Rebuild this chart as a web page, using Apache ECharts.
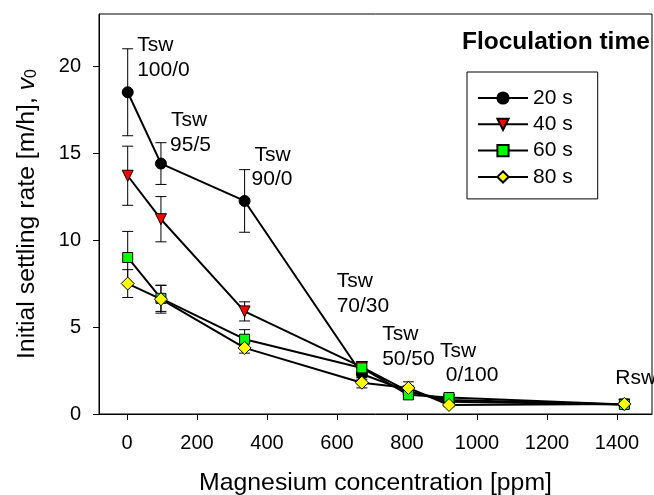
<!DOCTYPE html>
<html>
<head>
<meta charset="utf-8">
<script src="https://cdn.jsdelivr.net/npm/echarts@6/dist/echarts.min.js"></script>
<style>html,body{margin:0;padding:0;background:#fff}#c{width:654px;height:495px}</style>
</head>
<body>
<div id="c"></div>
<script>
// Mg concentration (ppm)
var mg = [2, 97, 336, 671, 804, 920, 1421];
var xTicks = [0, 200, 400, 600, 800, 1000, 1200, 1400];
var yTicks = [0, 5, 10, 15, 20];
var seriesNames = ['20 s', '40 s', '60 s', '80 s'];
var v20 = [18.5, 14.4, 12.25, 2.3, 1.3, 0.7, 0.55];
var v40 = [13.7, 11.2, 5.9, 2.7, 1.3, 0.8, 0.55];
var v60 = [9.0, 6.65, 4.3, 2.65, 1.1, 0.95, 0.55];
var v80 = [7.5, 6.6, 3.8, 1.8, 1.5, 0.52, 0.58];
var e20 = [2.5, 1.2, 1.8, 0.3, 0.2, 0.1, 0.05];
var e40 = [1.7, 1.3, 0.55, 0.3, 0.2, 0.1, 0.05];
var e60 = [1.5, 0.75, 0.55, 0.3, 0.15, 0.15, 0.05];
var e80 = [0.8, 0.8, 0.3, 0.3, 0.35, 0.1, 0.05];
// annotation lines (left x, centre y in data units)
var annoText = ['Tsw', '100/0', 'Tsw', '95/5', 'Tsw', '90/0', 'Tsw', '70/30', 'Tsw', '50/50', 'Tsw', '0/100', 'Rsw'];
var annoX = [29, 29, 126, 123, 364, 356, 599, 599, 729, 729, 894, 911, 1395];
var annoY = [21.2, 19.77, 16.9, 15.48, 14.9, 13.49, 7.65, 6.21, 4.56, 3.16, 3.6, 2.22, 2.03];

var FONT = 'Liberation Sans, Arial, sans-serif';
var values = [v20, v40, v60, v80];
var errs = [e20, e40, e60, e80];
var symbols = ['circle', 'triangle', 'rect', 'diamond'];
var rot = [0, 180, 0, 0];
var sizes = [11, 11, 10, 13];
var colors = ['#000000', '#FF0000', '#00FF00', '#FFFF00'];

var series = [];
for (var s = 0; s < 4; s++) {
  var ebData = mg.map(function (x, i) { return [x, values[s][i], errs[s][i]]; });
  series.push({
    type: 'custom', z: 2, silent: true,
    data: ebData,
    renderItem: function (params, api) {
      var x = api.value(0), y = api.value(1), e = api.value(2);
      var top = api.coord([x, y + e]);
      var bot = api.coord([x, y - e]);
      var w = 5.5;
      var st = { stroke: '#000', lineWidth: 1 };
      return { type: 'group', children: [
        { type: 'line', shape: { x1: top[0], y1: top[1], x2: bot[0], y2: bot[1] }, style: st },
        { type: 'line', shape: { x1: top[0] - w, y1: top[1], x2: top[0] + w, y2: top[1] }, style: st },
        { type: 'line', shape: { x1: bot[0] - w, y1: bot[1], x2: bot[0] + w, y2: bot[1] }, style: st }
      ]};
    }
  });
}
for (var s2 = 0; s2 < 4; s2++) {
  series.push({
    type: 'line', name: seriesNames[s2], z: 3,
    data: mg.map(function (x, i) { return [x, values[s2][i]]; }),
    symbol: symbols[s2], symbolRotate: rot[s2], symbolSize: sizes[s2],
    showAllSymbol: true,
    lineStyle: { color: '#000', width: 2 },
    itemStyle: { color: colors[s2], borderColor: '#000', borderWidth: 1 },
    emphasis: { disabled: true },
    animation: false
  });
}
series.push({
  type: 'scatter', z: 4, silent: true,
  symbolSize: 0,
  itemStyle: { opacity: 1 },
  data: annoText.map(function (t, i) { return { value: [annoX[i], annoY[i]], name: t }; }),
  label: {
    show: true, position: [0, 0], align: 'left', verticalAlign: 'middle',
    formatter: '{b}', color: '#000', fontSize: 21, fontFamily: FONT, opacity: 1
  }
});

var chart = echarts.init(document.getElementById('c'), null, { renderer: 'canvas' });
chart.setOption({
  animation: false,
  backgroundColor: '#fff',
  title: {
    text: 'Floculation time', left: 457, top: 25,
    textStyle: { fontFamily: FONT, fontSize: 24.5, fontWeight: 'bold', color: '#000' }
  },
  legend: {
    data: seriesNames, orient: 'vertical', left: 467, top: 72,
    borderColor: '#000', borderWidth: 1, padding: [15.5, 25, 11.5, 10],
    itemWidth: 50, itemHeight: 14, itemGap: 5.3,
    textStyle: { fontFamily: FONT, fontSize: 21, color: '#000' },
    selectedMode: false
  },
  grid: { left: 99, right: 2, top: 14, bottom: 81, show: true, borderColor: '#000', borderWidth: 1,
    containLabel: false, outerBoundsMode: 'none' },
  xAxis: {
    type: 'value', min: -80, max: 1500,
    name: 'Magnesium concentration [ppm]', nameLocation: 'middle', nameGap: 57,
    nameTextStyle: { fontFamily: FONT, fontSize: 24.8, color: '#000' },
    axisLine: { show: true, onZero: false, lineStyle: { color: '#000', width: 1 } },
    axisTick: { show: true, customValues: xTicks, length: 6, lineStyle: { color: '#000' } },
    axisLabel: { customValues: xTicks, formatter: function (v) { return String(v); }, fontFamily: FONT, fontSize: 20, color: '#000', margin: 19 },
    splitLine: { show: false }
  },
  yAxis: {
    type: 'value', min: 0, max: 23,
    name: 'Initial settling rate [m/h], {i|v}{s|0}', nameLocation: 'middle', nameGap: 59, nameRotate: 90,
    nameTextStyle: { fontFamily: FONT, fontSize: 24.8, color: '#000',
      rich: {
        i: { fontFamily: FONT, fontSize: 24.8, fontStyle: 'italic', color: '#000' },
        s: { fontFamily: FONT, fontSize: 16, color: '#000', padding: [10, 0, 0, 0] }
      } },
    axisLine: { show: true, onZero: false, lineStyle: { color: '#000', width: 1 } },
    axisTick: { show: true, customValues: yTicks, length: 6, lineStyle: { color: '#000' } },
    axisLabel: { customValues: yTicks, formatter: function (v) { return String(v); }, fontFamily: FONT, fontSize: 20, color: '#000', margin: 18 },
    splitLine: { show: false }
  },
  series: series
});
</script>
</body>
</html>
